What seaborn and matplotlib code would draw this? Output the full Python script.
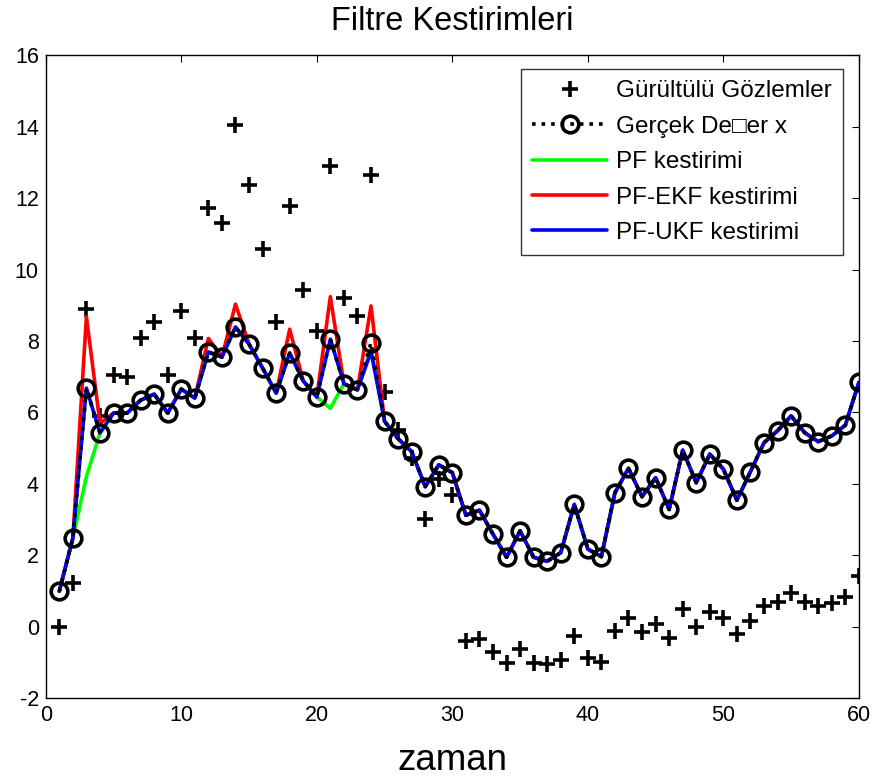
import numpy as np
import pandas as pd
import matplotlib
matplotlib.use("Agg")
import matplotlib.pyplot as plt
import seaborn as sns

# time steps
zaman = list(range(1, 61))

# noisy observations (+)
gozlem = [0.0, 1.21, 8.89, 5.9, 7.04, 7.0, 8.09, 8.52, 7.04, 8.84,
          8.09, 11.73, 11.31, 14.05, 12.37, 10.57, 8.52, 11.78, 9.43, 8.28,
          12.91, 9.19, 8.7, 12.65, 6.58, 5.5, 4.71, 3.0, 4.12, 3.68,
          -0.41, -0.36, -0.71, -1.01, -0.62, -1.01, -1.05, -0.94, -0.27, -0.89,
          -0.99, -0.12, 0.23, -0.16, 0.06, -0.33, 0.48, 0.0, 0.41, 0.23,
          -0.22, 0.15, 0.57, 0.7, 0.93, 0.7, 0.57, 0.67, 0.83, 1.41]

# true state x (o)
gercek = [0.99, 2.48, 6.68, 5.42, 5.98, 5.98, 6.34, 6.51, 5.98, 6.65,
          6.4, 7.69, 7.55, 8.39, 7.91, 7.24, 6.54, 7.66, 6.88, 6.43,
          8.05, 6.8, 6.63, 7.95, 5.75, 5.26, 4.9, 3.92, 4.53, 4.31,
          3.12, 3.26, 2.59, 1.94, 2.68, 1.94, 1.83, 2.07, 3.42, 2.17,
          1.96, 3.75, 4.43, 3.64, 4.17, 3.28, 4.94, 4.03, 4.83, 4.41,
          3.54, 4.34, 5.15, 5.48, 5.9, 5.43, 5.18, 5.34, 5.64, 6.84]

# PF estimate
pf = [0.99, 2.48, 4.2, 5.42, 5.98, 5.98, 6.34, 6.51, 5.98, 6.65,
      6.4, 7.69, 7.55, 8.39, 7.91, 7.24, 6.54, 7.66, 6.88, 6.43,
      6.11, 6.8, 6.63, 7.79, 5.75, 5.26, 4.9, 3.92, 4.53, 4.31,
      3.12, 3.26, 2.59, 1.94, 2.68, 1.94, 1.83, 2.07, 3.42, 2.17,
      1.96, 3.75, 4.43, 3.64, 4.17, 3.28, 4.94, 4.03, 4.83, 4.41,
      3.54, 4.34, 5.15, 5.48, 5.9, 5.43, 5.18, 5.34, 5.64, 6.84]

# PF-EKF estimate
pf_ekf = [0.99, 2.48, 8.68, 5.69, 5.98, 5.98, 6.34, 6.51, 5.98, 6.65,
          6.4, 8.07, 7.55, 9.03, 7.91, 7.24, 6.54, 8.33, 6.88, 6.43,
          9.24, 6.8, 6.63, 8.98, 5.75, 5.26, 4.9, 3.92, 4.53, 4.31,
          3.12, 3.26, 2.59, 1.94, 2.68, 1.94, 1.83, 2.07, 3.42, 2.17,
          1.96, 3.75, 4.43, 3.64, 4.17, 3.28, 4.94, 4.03, 4.83, 4.41,
          3.54, 4.34, 5.15, 5.5, 5.9, 5.43, 5.18, 5.34, 5.64, 6.84]

# PF-UKF estimate
pf_ukf = [0.99, 2.48, 6.68, 5.42, 5.98, 5.98, 6.34, 6.51, 5.98, 6.65,
          6.4, 7.69, 7.55, 8.39, 7.91, 7.24, 6.54, 7.66, 6.88, 6.43,
          8.05, 6.8, 6.63, 7.7, 5.75, 5.26, 4.9, 3.92, 4.53, 4.31,
          3.12, 3.26, 2.59, 1.94, 2.68, 1.94, 1.83, 2.07, 3.42, 2.17,
          1.96, 3.75, 4.43, 3.64, 4.17, 3.28, 4.94, 4.03, 4.83, 4.41,
          3.54, 4.34, 5.15, 5.48, 5.9, 5.43, 5.18, 5.34, 5.64, 6.84]

x_ticks = [0, 10, 20, 30, 40, 50, 60]
y_ticks = [-2, 0, 2, 4, 6, 8, 10, 12, 14, 16]

df = pd.DataFrame({"zaman": zaman, "gozlem": gozlem, "gercek": gercek,
                   "pf": pf, "pf_ekf": pf_ekf, "pf_ukf": pf_ukf})

sns.set_theme(style="white")
plt.rcParams['font.family'] = ['Liberation Sans', 'DejaVu Sans']
plt.rcParams['axes.unicode_minus'] = False
plt.rcParams['text.color'] = 'black'
plt.rcParams['axes.labelcolor'] = 'black'
plt.rcParams['xtick.color'] = 'black'
plt.rcParams['ytick.color'] = 'black'

fig = plt.figure(figsize=(8.8, 7.79), dpi=100)
ax = fig.add_axes([0.052, 0.104, 0.924, 0.825])

h_obs = sns.lineplot(data=df, x="zaman", y="gozlem", ax=ax, sort=False, linestyle='',
                     marker='+', markersize=11, markeredgewidth=2.6, color='black',
                     markeredgecolor='black', label='obs').lines[-1]
h_pf = sns.lineplot(data=df, x="zaman", y="pf", ax=ax, sort=False, color='#00ff00',
                    linewidth=2.6, label='pf').lines[-1]
h_ekf = sns.lineplot(data=df, x="zaman", y="pf_ekf", ax=ax, sort=False, color='#ff0000',
                     linewidth=2.6, label='ekf').lines[-1]
h_ukf = sns.lineplot(data=df, x="zaman", y="pf_ukf", ax=ax, sort=False, color='#0000ff',
                     linewidth=2.6, label='ukf').lines[-1]
h_true = sns.lineplot(data=df, x="zaman", y="gercek", ax=ax, sort=False, color='black',
                      linestyle=':', linewidth=2.6, marker='o', markersize=12,
                      markerfacecolor='none', markeredgecolor='black',
                      markeredgewidth=2.6, label='true').lines[-1]

ax.set_xlim(0, 60)
ax.set_ylim(-2, 16)
ax.set_xticks(x_ticks)
ax.set_yticks(y_ticks)
ax.tick_params(direction='in', top=True, right=True, labelsize=15.5, length=5,
               color='black', labelcolor='black', width=0.8, pad=5)
for s in ax.spines.values():
    s.set_color('black')
    s.set_linewidth(1.0)

ax.set_title('Filtre Kestirimleri', fontsize=23.5, pad=18, color='black')
ax.set_xlabel('zaman', fontsize=26.5, labelpad=12, color='black')
ax.set_ylabel('')

leg = ax.legend([h_obs, h_true, h_pf, h_ekf, h_ukf],
                ['Gürültülü Gözlemler', 'Gerçek De\u25a1er x', 'PF kestirimi',
                 'PF-EKF kestirimi', 'PF-UKF kestirimi'],
                loc='upper right', bbox_to_anchor=(0.980, 0.978), fontsize=17.5,
                frameon=True, fancybox=False, handlelength=3.1, labelspacing=0.55,
                borderpad=0.45, handletextpad=0.35, borderaxespad=0)
leg.get_frame().set_edgecolor('black')
leg.get_frame().set_linewidth(1.0)
for t in leg.get_texts():
    t.set_color('black')

plt.savefig('out.png', dpi=100)
plt.close()
